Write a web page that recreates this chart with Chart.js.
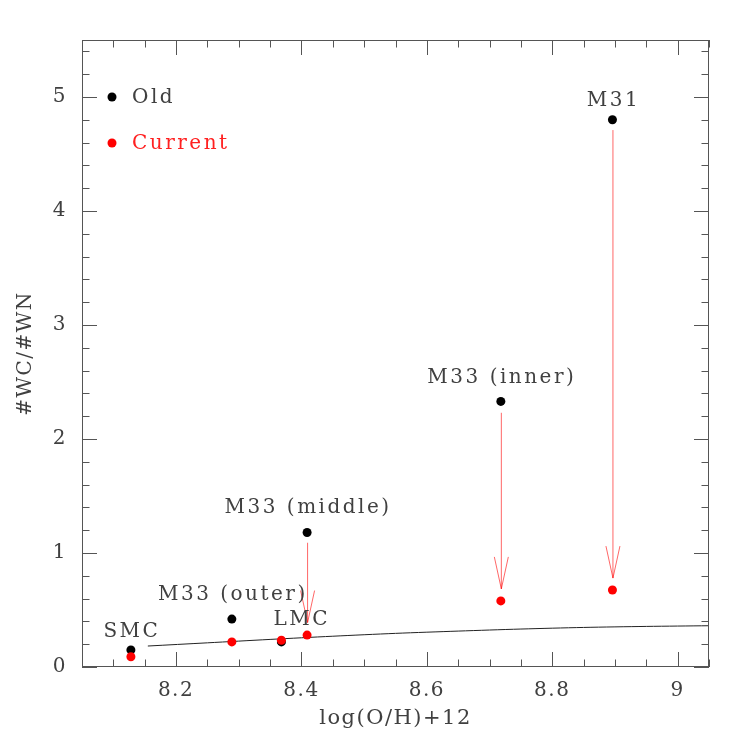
<!DOCTYPE html>
<html><head><meta charset="utf-8">
<script src="https://cdn.jsdelivr.net/npm/chart.js@4"></script>
<style>html,body{margin:0;padding:0;background:#fff}#wrap{width:747px;height:747px}</style>
</head><body><div id="wrap"><canvas id="c" width="747" height="747"></canvas></div>
<script>
// ---- data ----
const galaxies   = ['SMC', 'M33 (outer)', 'LMC', 'M33 (middle)', 'M33 (inner)', 'M31'];
const logOH      = [8.128, 8.289, 8.368, 8.409, 8.718, 8.896];
const ratioOld   = [0.15, 0.42, 0.22, 1.18, 2.33, 4.80];
const ratioNow   = [0.09, 0.22, 0.235, 0.28, 0.58, 0.675];
// label anchors (data units)
const labelX     = [8.128, 8.289, 8.399, 8.409, 8.718, 8.896];
const labelY     = [0.31, 0.63, 0.41, 1.395, 2.535, 4.965];
// arrows (data units)
const arrowX     = [8.409, 8.718, 8.896];
const arrowFrom  = [1.09, 2.23, 4.71];
const arrowTo    = [0.39, 0.685, 0.78];
// model curve
const modelX     = [8.155, 8.25, 8.35, 8.45, 8.55, 8.65, 8.75, 8.85, 8.95, 9.05];
const modelY     = [0.184, 0.212, 0.242, 0.27, 0.295, 0.315, 0.333, 0.347, 0.356, 0.362];
// axis ticks
const xTickVals  = [8.2, 8.4, 8.6, 8.8, 9.0];
const xTickLabels= ['8.2', '8.4', '8.6', '8.8', '9'];
const yTickVals  = [0, 1, 2, 3, 4, 5];
const xRange = [8.05, 9.05], yRange = [0, 5.5];
const xMinorStep = 0.05, yMinorStep = 0.2;

const FONT = '"DejaVu Serif", "Liberation Serif", serif';
const TXT = '#404040';
const AX = '#555';

const pts = (xs, ys) => xs.map((x, i) => ({x, y: ys[i]}));

const spacing = {
  id: 'spacing',
  beforeLayout(chart) { chart.ctx.letterSpacing = '1.5px'; },
  beforeDraw(chart) { chart.ctx.letterSpacing = '1.5px'; }
};

const decor = {
  id: 'decor',
  afterDatasetsDraw(chart) {
    const {ctx, chartArea: a, scales: {x, y}} = chart;
    ctx.save();
    // frame
    ctx.strokeStyle = AX; ctx.lineWidth = 1;
    ctx.strokeRect(a.left + 0.5, a.top + 0.5, a.right - a.left - 1, a.bottom - a.top - 1);
    // ticks
    const drawX = (v, len) => {
      const px = Math.round(x.getPixelForValue(v)) + 0.5;
      ctx.beginPath();
      ctx.moveTo(px, a.bottom); ctx.lineTo(px, a.bottom - len);
      ctx.moveTo(px, a.top); ctx.lineTo(px, a.top + len);
      ctx.stroke();
    };
    const drawY = (v, len) => {
      const py = Math.round(y.getPixelForValue(v)) + 0.5;
      ctx.beginPath();
      ctx.moveTo(a.left, py); ctx.lineTo(a.left + len, py);
      ctx.moveTo(a.right, py); ctx.lineTo(a.right - len, py);
      ctx.stroke();
    };
    for (let k = Math.ceil(xRange[0] / xMinorStep - 1e-6); k * xMinorStep <= xRange[1] + 1e-9; k++) {
      const v = +(k * xMinorStep).toFixed(4);
      const major = xTickVals.some(t => Math.abs(t - v) < 1e-6);
      drawX(v, major ? 15 : 7.5);
    }
    for (let k = Math.ceil(yRange[0] / yMinorStep - 1e-6); k * yMinorStep <= yRange[1] + 1e-9; k++) {
      const v = +(k * yMinorStep).toFixed(4);
      const major = yTickVals.some(t => Math.abs(t - v) < 1e-6);
      drawY(v, major ? 15 : 7.5);
    }
    // arrows
    ctx.strokeStyle = 'rgba(255,0,0,0.6)';
    ctx.lineWidth = 1;
    arrowX.forEach((ax, i) => {
      const px = x.getPixelForValue(ax) + 0.5;
      const p0 = y.getPixelForValue(arrowFrom[i]);
      const p1 = y.getPixelForValue(arrowTo[i]);
      ctx.beginPath();
      ctx.moveTo(px, p0); ctx.lineTo(px, p1);
      ctx.moveTo(px - 7, p1 - 32); ctx.lineTo(px, p1); ctx.lineTo(px + 7, p1 - 32);
      ctx.stroke();
    });
    // galaxy labels
    ctx.letterSpacing = '2.5px';
    ctx.fillStyle = TXT;
    ctx.font = '20px ' + FONT;
    ctx.textAlign = 'center'; ctx.textBaseline = 'middle';
    galaxies.forEach((g, i) => {
      ctx.fillText(g, x.getPixelForValue(labelX[i]) + 1, y.getPixelForValue(labelY[i]));
    });
    // legend
    const ds = [chart.data.datasets[1], chart.data.datasets[0]];
    ds.forEach((d, i) => {
      const cy = a.top + 57 + i * 46;
      ctx.beginPath();
      ctx.fillStyle = d.backgroundColor;
      ctx.arc(a.left + 30, cy, 4.5, 0, Math.PI * 2);
      ctx.fill();
      ctx.fillStyle = d.label === 'Current' ? '#ff2020' : TXT;
      ctx.textAlign = 'left';
      ctx.fillText(d.label, a.left + 50, cy + 1);
    });
    ctx.restore();
  }
};

new Chart(document.getElementById('c'), {
  type: 'scatter',
  data: {
    datasets: [
      { label: 'Current', data: pts(logOH, ratioNow), backgroundColor: '#ff0000', borderColor: '#ff0000', pointRadius: 4.5, pointBorderWidth: 0 },
      { label: 'Old', data: pts(logOH, ratioOld), backgroundColor: '#000000', borderColor: '#000000', pointRadius: 4.5, pointBorderWidth: 0 },
      { label: 'model', type: 'line', data: pts(modelX, modelY), borderColor: '#222', borderWidth: 1, pointRadius: 0, fill: false, tension: 0.3 }
    ]
  },
  options: {
    responsive: false, animation: false, devicePixelRatio: 1,
    layout: { padding: { top: 40, right: 38, left: 0, bottom: 0 } },
    plugins: { legend: { display: false }, tooltip: { enabled: false } },
    scales: {
      x: {
        type: 'linear', min: xRange[0], max: xRange[1],
        afterBuildTicks: s => { s.ticks = xTickVals.map(v => ({value: v})); },
        afterFit: s => { s.height = 80; },
        grid: { display: false, drawTicks: false },
        border: { display: false },
        ticks: { padding: 12, color: TXT, font: { family: FONT, size: 20 }, maxRotation: 0,
                 callback: (v) => xTickLabels[xTickVals.findIndex(t => Math.abs(t - v) < 1e-6)] },
        title: { display: true, text: 'log(O/H)+12', color: TXT, font: { family: FONT, size: 21 }, padding: { top: 0, bottom: 16 } }
      },
      y: {
        type: 'linear', min: yRange[0], max: yRange[1],
        afterBuildTicks: s => { s.ticks = yTickVals.map(v => ({value: v})); },
        afterFit: s => { s.width = 82; },
        grid: { display: false, drawTicks: false },
        border: { display: false },
        ticks: { padding: 15, color: TXT, font: { family: FONT, size: 20 } },
        title: { display: true, text: '#WC/#WN', color: TXT, font: { family: FONT, size: 20 }, padding: { top: 14, bottom: 0 } }
      }
    }
  },
  plugins: [spacing, decor]
});
</script></body></html>
